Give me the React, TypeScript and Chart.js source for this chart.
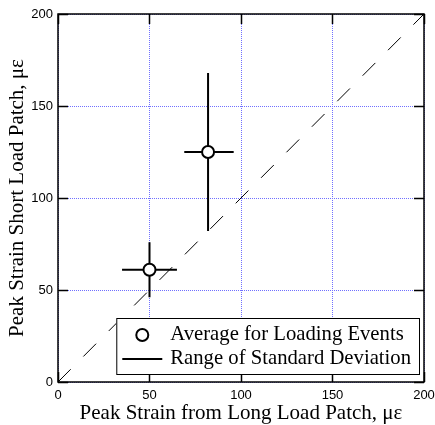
import React, { useEffect, useRef } from "react";
import { Chart, registerables } from "chart.js";
Chart.register(...registerables);

// Data
const xMeans = [50, 82];
const yMeans = [61, 125];
const xLow = [35, 69];
const xHigh = [65, 96];
const yLow = [46, 82];
const yHigh = [76, 168];
const diagonalX = [0, 200];
const diagonalY = [0, 200];
const axisTicks = [0, 50, 100, 150, 200];
const legendLabels = ["Average for Loading Events", "Range of Standard Deviation"];
const xTitle = "Peak Strain from Long Load Patch, \u03bc\u03b5";
const yTitle = "Peak Strain Short Load Patch, \u03bc\u03b5";

const SERIF = "'Liberation Serif', 'Times New Roman', serif";
const SANS = "'Liberation Sans', Arial, sans-serif";

const errorBarsPlugin = {
  id: "errorBars",
  beforeDatasetsDraw(chart: any) {
    const { ctx, scales } = chart;
    const xs = scales.x;
    const ys = scales.y;
    ctx.save();
    ctx.strokeStyle = "#000";
    ctx.lineWidth = 2;
    for (let i = 0; i < xMeans.length; i++) {
      const cy = ys.getPixelForValue(yMeans[i]);
      const cx = xs.getPixelForValue(xMeans[i]);
      ctx.beginPath();
      ctx.moveTo(xs.getPixelForValue(xLow[i]), cy);
      ctx.lineTo(xs.getPixelForValue(xHigh[i]), cy);
      ctx.moveTo(cx, ys.getPixelForValue(yLow[i]));
      ctx.lineTo(cx, ys.getPixelForValue(yHigh[i]));
      ctx.stroke();
    }
    ctx.restore();
  },
};

const gridPlugin = {
  id: "dottedGrid",
  beforeDatasetsDraw(chart: any) {
    const { ctx, chartArea, scales } = chart;
    const { left, right, top, bottom } = chartArea;
    ctx.save();
    ctx.strokeStyle = "#7070ff";
    ctx.lineWidth = 1;
    ctx.setLineDash([1, 1]);
    ctx.beginPath();
    axisTicks.forEach((v) => {
      const px = Math.floor(scales.x.getPixelForValue(v)) + 0.5;
      const py = Math.round(scales.y.getPixelForValue(v)) + 0.5;
      ctx.moveTo(px, top);
      ctx.lineTo(px, bottom);
      ctx.moveTo(left, py);
      ctx.lineTo(right, py);
    });
    ctx.stroke();
    ctx.restore();
  },
};

const framePlugin = {
  id: "frame",
  afterDatasetsDraw(chart: any) {
    const { ctx, chartArea, scales } = chart;
    const { left, right, top, bottom } = chartArea;
    ctx.save();
    ctx.strokeStyle = "#000";
    ctx.lineWidth = 1.5;
    ctx.strokeRect(left, top, right - left, bottom - top);
    const tl = 10;
    ctx.beginPath();
    axisTicks.forEach((v) => {
      const px = Math.floor(scales.x.getPixelForValue(v)) + 0.5;
      const py = Math.round(scales.y.getPixelForValue(v)) + 0.5;
      ctx.moveTo(px, bottom);
      ctx.lineTo(px, bottom - tl);
      ctx.moveTo(px, top);
      ctx.lineTo(px, top + tl);
      ctx.moveTo(left, py);
      ctx.lineTo(left + tl, py);
      ctx.moveTo(right, py);
      ctx.lineTo(right - tl, py);
    });
    ctx.stroke();
    ctx.restore();
  },
};

const legendPlugin = {
  id: "customLegend",
  afterDraw(chart: any) {
    const { ctx, chartArea } = chart;
    ctx.save();
    ctx.font = `20.7px ${SERIF}`;
    const textW = Math.max(...legendLabels.map((t) => ctx.measureText(t).width));
    const boxRight = chartArea.right - 5;
    const boxBottom = chartArea.bottom - 8;
    const boxW = 54 + textW + 8;
    const boxH = 56;
    const boxLeft = boxRight - boxW;
    const boxTop = boxBottom - boxH;
    ctx.fillStyle = "#fff";
    ctx.fillRect(boxLeft, boxTop, boxW, boxH);
    ctx.strokeStyle = "#000";
    ctx.lineWidth = 1;
    ctx.strokeRect(boxLeft + 0.5, boxTop + 0.5, boxW, boxH);
    const row1 = boxTop + 17;
    const row2 = boxTop + 41;
    ctx.beginPath();
    ctx.arc(boxLeft + 26, row1, 6, 0, Math.PI * 2);
    ctx.fillStyle = "#fff";
    ctx.fill();
    ctx.lineWidth = 2;
    ctx.stroke();
    ctx.beginPath();
    ctx.moveTo(boxLeft + 6, row2);
    ctx.lineTo(boxLeft + 46, row2);
    ctx.lineWidth = 2;
    ctx.stroke();
    ctx.fillStyle = "#000";
    ctx.textBaseline = "middle";
    ctx.textAlign = "left";
    ctx.fillText(legendLabels[0], boxLeft + 54, row1);
    ctx.fillText(legendLabels[1], boxLeft + 54, row2);
    ctx.restore();
  },
};

export default function App() {
  const canvasRef = useRef<HTMLCanvasElement | null>(null);

  useEffect(() => {
    if (!canvasRef.current) return;
    const gridCommon = { display: false, drawTicks: false };
    const chart = new Chart(canvasRef.current, {
      type: "scatter",
      data: {
        datasets: [
          {
            type: "line",
            label: "diagonal",
            data: diagonalX.map((x, i) => ({ x, y: diagonalY[i] })),
            borderColor: "#000",
            borderWidth: 1,
            borderDash: [18, 18],
            pointRadius: 0,
            fill: false,
          } as any,
          {
            label: legendLabels[0],
            data: xMeans.map((x, i) => ({ x, y: yMeans[i] })),
            pointRadius: 6,
            pointBackgroundColor: "#fff",
            pointBorderColor: "#000",
            pointBorderWidth: 2,
          },
        ],
      },
      options: {
        responsive: false,
        maintainAspectRatio: false,
        animation: false,
        layout: { padding: { top: 14, right: 11, left: 0, bottom: 0 } },
        plugins: { legend: { display: false }, tooltip: { enabled: false } },
        scales: {
          x: {
            type: "linear",
            min: 0,
            max: 200,
            afterBuildTicks: (s: any) => {
              s.ticks = axisTicks.map((v) => ({ value: v }));
            },
            afterFit: (s: any) => {
              s.height = 43;
              s.paddingLeft = 0;
              s.paddingRight = 0;
            },
            grid: gridCommon,
            border: { display: false },
            ticks: {
              color: "#000",
              font: { family: SANS, size: 13 },
              padding: 6,
              maxRotation: 0,
              autoSkip: false,
            },
            title: {
              display: true,
              text: xTitle,
              color: "#000",
              font: { family: SERIF, size: 21 },
              padding: { top: 0, bottom: -1 },
            },
          },
          y: {
            type: "linear",
            min: 0,
            max: 200,
            afterBuildTicks: (s: any) => {
              s.ticks = axisTicks.map((v) => ({ value: v }));
            },
            afterFit: (s: any) => {
              s.width = 58;
              s.paddingTop = 0;
              s.paddingBottom = 0;
            },
            grid: gridCommon,
            border: { display: false },
            ticks: {
              color: "#000",
              font: { family: SANS, size: 13 },
              padding: 5,
              autoSkip: false,
            },
            title: {
              display: true,
              text: yTitle,
              color: "#000",
              font: { family: SERIF, size: 21 },
              padding: { top: 5, bottom: 0 },
            },
          },
        },
      } as any,
      plugins: [gridPlugin, errorBarsPlugin, framePlugin, legendPlugin],
    });
    return () => chart.destroy();
  }, []);

  return (
    <div style={{ position: "fixed", left: 0, top: 0, width: 435, height: 425, background: "#fff" }}>
      <canvas ref={canvasRef} width={435} height={425} style={{ display: "block" }} />
    </div>
  );
}
